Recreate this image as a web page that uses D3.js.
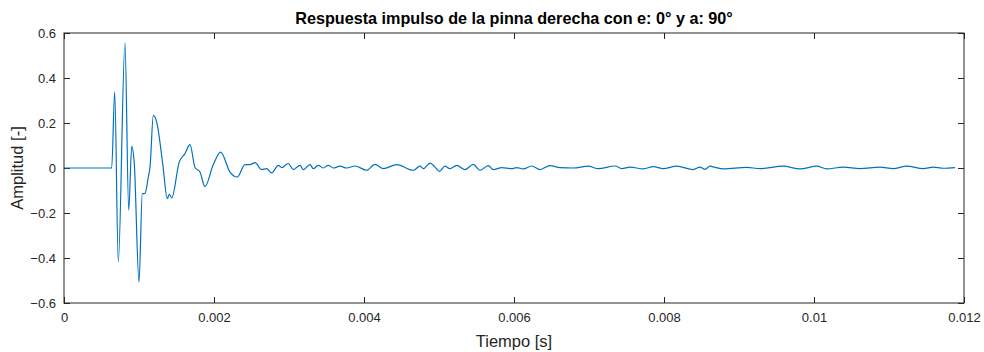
<!DOCTYPE html>
<html>
<head>
<meta charset="utf-8">
<script src="https://cdn.jsdelivr.net/npm/d3@7"></script>
<style>
  body { margin: 0; background: #fff; }
  svg { display: block; font-family: "Liberation Sans", Arial, sans-serif; }
</style>
</head>
<body>
<script>
const width = 984;
const height = 352;
const margin = {top: 33, right: 20, bottom: 49, left: 64};

const titleText = 'Respuesta impulso de la pinna derecha con e: 0° y a: 90°';
const xLabel = 'Tiempo [s]';
const yLabel = 'Amplitud [-]';

const xTicks = [0, 0.002, 0.004, 0.006, 0.008, 0.01, 0.012];
const yTicks = [-0.6, -0.4, -0.2, 0, 0.2, 0.4, 0.6];

// time (s) and amplitude
const time = [
  0, 0.000636, 0.000676, 0.000724, 0.000813, 0.000863, 0.000903, 0.000937, 0.001, 0.001044,
  0.00108, 0.001124, 0.001147, 0.001191, 0.001236, 0.001316, 0.001377, 0.001404, 0.001436, 0.001537,
  0.001613, 0.00168, 0.001747, 0.001813, 0.00188, 0.001987, 0.002089, 0.002213, 0.002311, 0.002413,
  0.00248, 0.002547, 0.002636, 0.002703, 0.002769, 0.002857, 0.002903, 0.002991, 0.003057, 0.003147,
  0.003191, 0.00328, 0.003324, 0.003391, 0.003457, 0.003524, 0.003591, 0.00368, 0.003769, 0.00388,
  0.004036, 0.004147, 0.004257, 0.004436, 0.004657, 0.004747, 0.004791, 0.00488, 0.004947, 0.005004,
  0.00508, 0.005147, 0.005236, 0.005347, 0.005457, 0.005547, 0.005657, 0.005724, 0.005836, 0.005969,
  0.006036, 0.006124, 0.006236, 0.006347, 0.00648, 0.006613, 0.006791, 0.006991, 0.007124, 0.007347,
  0.007436, 0.007547, 0.007724, 0.007857, 0.007991, 0.008169, 0.008391, 0.00848, 0.008547, 0.008613,
  0.00868, 0.008791, 0.009103, 0.00928, 0.009591, 0.009813, 0.010036, 0.010169, 0.010391, 0.010613,
  0.01088, 0.011057, 0.011236, 0.011457, 0.011591, 0.011724, 0.01188
];
const amplitude = [
  0, 0, 0.338, -0.418, 0.556, -0.188, 0.096, 0.02, -0.507, -0.114,
  -0.113, -0.04, 0.004, 0.234, 0.204, 0.02, -0.136, -0.117, -0.133, 0.027,
  0.064, 0.104, 0.002, -0.018, -0.083, 0.012, 0.071, -0.018, -0.04, 0.015,
  0.015, 0.024, -0.007, -0.003, -0.022, 0.012, 0.002, 0.02, -0.007, 0.012,
  -0.007, 0.015, -0.003, 0.012, 0, 0.012, 0, 0.008, 0, 0.009,
  -0.01, 0.016, -0.003, 0.015, -0.01, 0.008, -0.003, 0.022, 0.004, -0.015,
  0.008, -0.003, 0.012, -0.007, 0.016, -0.01, 0.011, -0.007, 0.002, -0.003,
  0.002, -0.004, 0.009, -0.007, 0.011, 0.002, 0, 0.008, -0.003, 0.009,
  -0.003, 0.004, -0.004, 0.006, -0.003, 0.008, -0.007, 0.004, -0.006, 0.008,
  0.003, -0.004, 0.003, -0.003, 0.008, -0.004, 0.008, -0.004, 0.004, -0.003,
  0.004, -0.003, 0.008, -0.003, 0.004, -0.001, 0.002
];

const data = time.map((t, i) => ({t: t, v: amplitude[i]}));

const x = d3.scaleLinear()
  .domain([0, 0.012])
  .range([margin.left, width - margin.right]);

const y = d3.scaleLinear()
  .domain([-0.6, 0.6])
  .range([height - margin.bottom, margin.top]);

const svg = d3.select('body').append('svg')
  .attr('width', width)
  .attr('height', height);

const axisColor = '#262626';

const xAxis = g => g
  .attr('transform', `translate(0,${height - margin.bottom})`)
  .call(d3.axisBottom(x).tickValues(xTicks).tickFormat(d => d3.format('')(+d.toFixed(3))).tickSizeInner(-6).tickSizeOuter(0).tickPadding(10))
  .call(g => g.select('.domain').remove());

const yAxis = g => g
  .attr('transform', `translate(${margin.left},0)`)
  .call(d3.axisLeft(y).tickValues(yTicks).tickFormat(d => d3.format('')(+d.toFixed(1))).tickSizeInner(-6).tickSizeOuter(0).tickPadding(8))
  .call(g => g.select('.domain').remove());

// top / right ticks like a boxed matlab axes
svg.append('g')
  .attr('transform', `translate(0,${margin.top})`)
  .call(d3.axisTop(x).tickValues(xTicks).tickSizeInner(-6).tickSizeOuter(0).tickFormat(''))
  .call(g => g.select('.domain').remove());
svg.append('g')
  .attr('transform', `translate(${width - margin.right},0)`)
  .call(d3.axisRight(y).tickValues(yTicks).tickSizeInner(-6).tickSizeOuter(0).tickFormat(''))
  .call(g => g.select('.domain').remove());

svg.append('g').call(xAxis);
svg.append('g').call(yAxis);

svg.selectAll('.tick line').attr('stroke', axisColor);
svg.selectAll('.tick text')
  .attr('fill', axisColor)
  .attr('font-size', '13px')
  .attr('font-family', '"Liberation Sans", Arial, sans-serif');

const line = d3.line()
  .curve(d3.curveMonotoneX)
  .x(d => x(d.t))
  .y(d => y(d.v));

svg.append('path')
  .datum(data)
  .attr('fill', 'none')
  .attr('stroke', '#0072BD')
  .attr('stroke-width', 1.2)
  .attr('stroke-linejoin', 'round')
  .attr('d', line);

svg.append('rect')
  .attr('x', margin.left)
  .attr('y', margin.top)
  .attr('width', width - margin.left - margin.right)
  .attr('height', height - margin.top - margin.bottom)
  .attr('fill', 'none')
  .attr('stroke', axisColor)
  .attr('stroke-width', 1);

svg.append('text')
  .attr('x', (margin.left + width - margin.right) / 2)
  .attr('y', 24)
  .attr('text-anchor', 'middle')
  .attr('font-weight', 'bold')
  .attr('font-size', '16.2px')
  .attr('fill', '#000')
  .text(titleText);

svg.append('text')
  .attr('x', (margin.left + width - margin.right) / 2)
  .attr('y', 347)
  .attr('text-anchor', 'middle')
  .attr('font-size', '16.5px')
  .attr('fill', axisColor)
  .text(xLabel);

svg.append('text')
  .attr('transform', `translate(23,${(margin.top + height - margin.bottom) / 2}) rotate(-90)`)
  .attr('text-anchor', 'middle')
  .attr('font-size', '16.5px')
  .attr('fill', axisColor)
  .text(yLabel);
</script>
</body>
</html>
